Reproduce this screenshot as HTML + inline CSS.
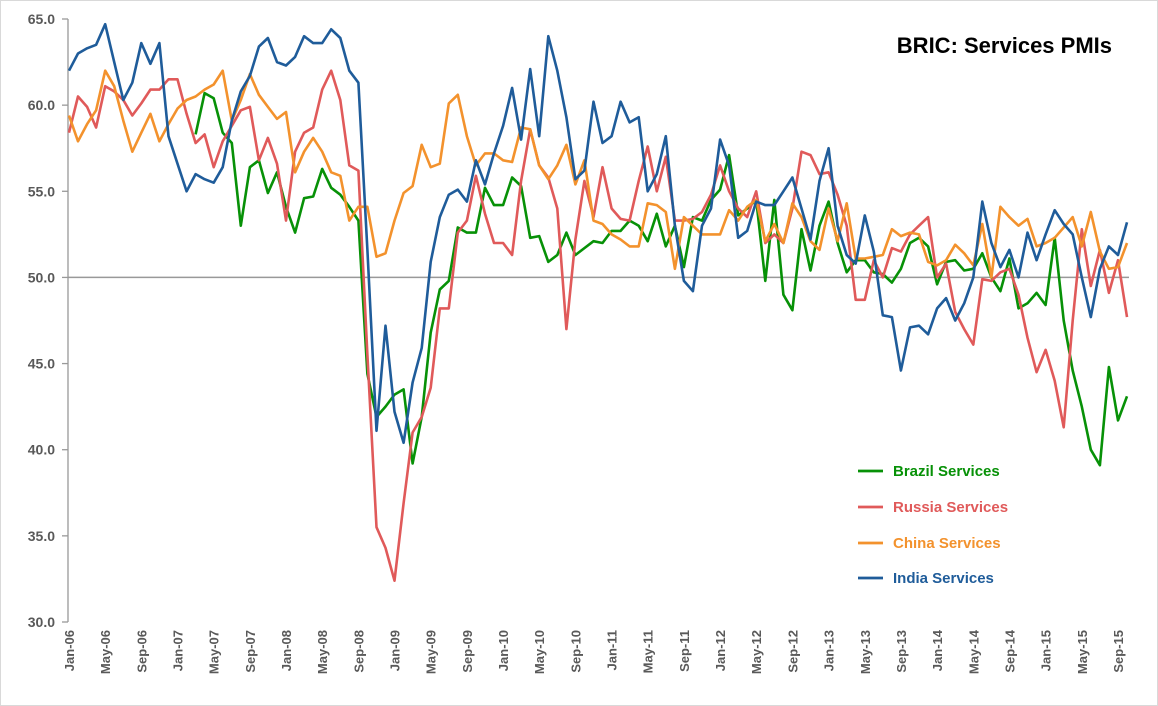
<!DOCTYPE html>
<html><head><meta charset="utf-8"><style>
html,body{margin:0;padding:0;background:#fff;}
svg{display:block;font-family:"Liberation Sans",Arial,sans-serif;}
</style></head><body>
<svg id="chart" width="1158" height="706" viewBox="0 0 1158 706" xmlns="http://www.w3.org/2000/svg">
<rect x="0.5" y="0.5" width="1157" height="705" fill="#fff" stroke="#d9d9d9"/>
<text x="1112" y="53" text-anchor="end" font-size="22" font-weight="bold" fill="#000">BRIC: Services PMIs</text>
<g id="yaxis"></g>
<g id="xaxis"></g>
<g id="series"></g>
<g id="legend"></g>
</svg>
<script>
const yTicks = [30, 35, 40, 45, 50, 55, 60, 65];
const monthNames = ["Jan","Feb","Mar","Apr","May","Jun","Jul","Aug","Sep","Oct","Nov","Dec"];
const india = [62.0,63.0,63.3,63.5,64.7,62.5,60.3,61.3,63.6,62.4,63.6,58.2,56.6,55.0,56.0,55.7,55.5,56.4,59.1,60.8,61.7,63.4,63.9,62.5,62.3,62.8,64.0,63.6,63.6,64.4,63.9,62.0,61.3,51.6,41.1,47.2,42.2,40.4,43.9,45.9,50.9,53.5,54.8,55.1,54.4,56.8,55.4,57.2,58.8,61.0,58.0,62.1,58.2,64.0,62.0,59.3,55.7,56.2,60.2,57.8,58.2,60.2,59.0,59.3,55.0,56.0,58.2,53.0,49.8,49.2,53.0,54.0,58.0,56.5,52.3,52.7,54.4,54.2,54.2,55.0,55.8,54.0,52.2,55.6,57.5,53.0,51.3,50.8,53.6,51.5,47.8,47.7,44.6,47.1,47.2,46.7,48.2,48.8,47.5,48.5,50.0,54.4,52.0,50.6,51.6,50.0,52.6,51.0,52.5,53.9,53.1,52.5,50.0,47.7,50.5,51.8,51.3,53.2];
const russia = [58.4,60.5,59.9,58.7,61.1,60.8,60.3,59.4,60.1,60.9,60.9,61.5,61.5,59.5,57.8,58.3,56.4,57.9,58.8,59.7,59.9,56.8,58.1,56.6,53.3,57.3,58.4,58.7,60.9,62.0,60.3,56.5,56.2,45.5,35.5,34.3,32.4,36.9,41.0,41.9,43.6,48.2,48.2,52.6,53.3,55.9,53.7,52.0,52.0,51.3,55.6,58.6,56.5,55.8,54.0,47.0,52.2,55.6,53.5,56.4,54.0,53.4,53.3,55.6,57.6,55.0,57.0,53.3,53.3,53.4,53.8,54.8,56.5,55.0,54.0,53.5,55.0,52.0,52.5,52.0,54.0,57.3,57.1,56.0,56.1,54.8,53.0,48.7,48.7,51.0,50.0,51.7,51.5,52.5,53.0,53.5,50.0,50.8,48.0,47.0,46.1,49.9,49.8,50.3,50.5,49.0,46.5,44.5,45.8,44.0,41.3,47.5,52.8,49.5,51.6,49.1,51.0,47.7];
const china = [59.4,57.9,58.9,59.7,62.0,61.1,59.1,57.3,58.4,59.5,57.9,58.9,59.8,60.3,60.5,60.9,61.2,62.0,59.1,60.3,61.8,60.6,59.9,59.2,59.6,56.1,57.3,58.1,57.3,56.1,55.9,53.3,54.1,54.1,51.2,51.4,53.3,54.9,55.3,57.7,56.4,56.6,60.1,60.6,58.2,56.5,57.2,57.2,56.8,56.7,58.7,58.6,56.5,55.7,56.5,57.7,55.4,56.8,53.3,53.1,52.5,52.2,51.8,51.8,54.3,54.2,53.8,50.5,53.5,53.0,52.5,52.5,52.5,53.9,53.3,54.1,54.5,52.1,53.1,52.0,54.3,53.5,52.1,51.6,54.0,52.1,54.3,51.1,51.1,51.2,51.3,52.8,52.4,52.6,52.5,50.9,50.7,51.0,51.9,51.4,50.7,53.1,50.0,54.1,53.5,53.0,53.4,51.8,52.0,52.3,52.9,53.5,51.8,53.8,51.5,50.5,50.6,52.0];
const brazil = [null,null,null,null,null,null,null,null,null,null,null,null,null,null,58.3,60.7,60.4,58.4,57.8,53.0,56.4,56.8,54.9,56.1,54.1,52.6,54.6,54.7,56.3,55.2,54.8,54.1,53.3,44.4,41.9,42.5,43.2,43.5,39.2,41.9,46.8,49.3,49.8,52.9,52.6,52.6,55.2,54.2,54.2,55.8,55.3,52.3,52.4,50.9,51.3,52.6,51.3,51.7,52.1,52.0,52.7,52.7,53.3,53.0,52.1,53.7,51.8,53.0,50.6,53.5,53.3,54.5,55.1,57.1,53.6,54.0,54.5,49.8,54.5,49.0,48.1,52.8,50.4,53.0,54.4,52.0,50.3,51.0,51.0,50.3,50.2,49.7,50.5,52.0,52.3,51.8,49.6,50.9,51.0,50.4,50.5,51.4,50.0,49.2,51.1,48.2,48.5,49.1,48.4,52.3,47.5,44.6,42.5,40.0,39.1,44.8,41.7,43.1];
const seriesNames = ["Brazil Services","Russia Services","China Services","India Services"];
const seriesColors = ["#079107","#e05a5a","#f3922d","#1f5c9a"];
const seriesData = [brazil, russia, china, india];

const NS = "http://www.w3.org/2000/svg";
const X0 = 69, X1 = 1127, Y0 = 19, Y1 = 622, YMIN = 30, YMAX = 65;
const N = india.length;
function xPos(i){ return X0 + (X1 - X0) * i / (N - 1); }
function yPos(v){ return Y1 - (v - YMIN) / (YMAX - YMIN) * (Y1 - Y0); }
function mk(tag, attrs, parent){ const e = document.createElementNS(NS, tag); for (const k in attrs) e.setAttribute(k, attrs[k]); parent.appendChild(e); return e; }

const yg = document.getElementById('yaxis');
const ax = mk('line', {x1:68, y1:Y0, x2:68, y2:Y1, stroke:'#999', 'stroke-width':1.3}, yg);


yTicks.forEach(t => {
  const y = yPos(t);
  const tk = mk('line', {x1:62, y1:y, x2:68, y2:y, stroke:'#999', 'stroke-width':1.3}, yg);
  
  
  const tx = mk('text', {x:55, y:y+5, 'text-anchor':'end', 'font-size':14, 'font-weight':'bold', fill:'#595959'}, yg);
  tx.textContent = t.toFixed(1);
  
  
});
const ref = mk('line', {x1:68, y1:yPos(50), x2:X1+2, y2:yPos(50), stroke:'#999', 'stroke-width':1.5}, yg);



const xg = document.getElementById('xaxis');
for (let i = 0; i < N; i += 4) {
  const x = xPos(i);
  const yr = 6 + Math.floor(i / 12);
  const lbl = monthNames[i % 12] + '-' + String(yr).padStart(2, '0');
  const tx = mk('text', {x:0, y:0, 'text-anchor':'end', 'font-size':13, 'font-weight':'bold', fill:'#595959', transform:'translate(' + (x+5) + ',630) rotate(-90)'}, xg);
  tx.textContent = lbl;
  
  
}

const sg = document.getElementById('series');
seriesData.forEach((arr, s) => {
  let d = '', pen = false;
  arr.forEach((v, i) => {
    if (v === null) { pen = false; return; }
    d += (pen ? 'L' : 'M') + xPos(i).toFixed(1) + ' ' + yPos(v).toFixed(1);
    pen = true;
  });
  const p = mk('path', {d:d, fill:'none', stroke:seriesColors[s], 'stroke-width':2.6, 'stroke-linejoin':'round'}, sg);
  
  
});

const lg = document.getElementById('legend');
const legY = [471, 507, 543, 578];
seriesNames.forEach((n, s) => {
  const l = mk('line', {x1:858, y1:legY[s], x2:883, y2:legY[s], stroke:seriesColors[s], 'stroke-width':2.8}, lg);
  
  
  const t = mk('text', {x:893, y:legY[s]+5, 'font-size':15, 'font-weight':'bold', fill:seriesColors[s]}, lg);
  t.textContent = n;
  
  
});
</script>
</body></html>
